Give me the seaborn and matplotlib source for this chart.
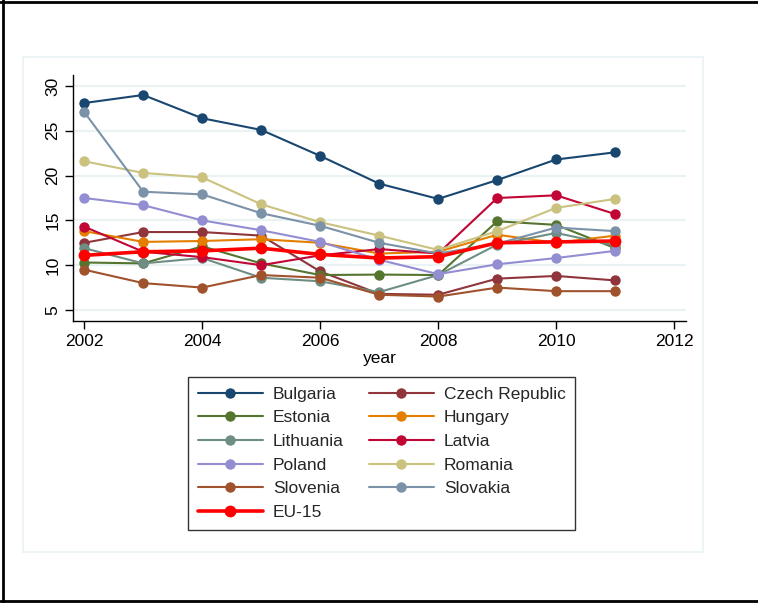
import matplotlib
matplotlib.use("Agg")
import matplotlib.pyplot as plt
from matplotlib.lines import Line2D
from matplotlib.patches import Rectangle
import pandas as pd
import seaborn as sns

# Yearly rates by country, 2002-2011
years = [2002, 2003, 2004, 2005, 2006, 2007, 2008, 2009, 2010, 2011]
bulgaria = [28.1, 29.0, 26.4, 25.1, 22.2, 19.1, 17.4, 19.5, 21.8, 22.6]
czech_republic = [12.5, 13.7, 13.7, 13.3, 9.3, 6.8, 6.7, 8.5, 8.8, 8.3]
estonia = [10.3, 10.2, 12.1, 10.2, 8.9, 8.95, 8.9, 14.9, 14.5, 11.9]
hungary = [13.8, 12.6, 12.7, 12.9, 12.5, 11.3, 11.5, 13.4, 12.5, 13.3]
lithuania = [11.9, 10.2, 10.8, 8.6, 8.2, 7.0, 8.9, 12.3, 13.6, 12.2]
latvia = [14.3, 11.5, 10.9, 10.0, 11.1, 11.8, 11.3, 17.5, 17.8, 15.7]
poland = [17.5, 16.7, 15.0, 13.9, 12.6, 10.6, 9.0, 10.1, 10.8, 11.6]
romania = [21.6, 20.3, 19.8, 16.8, 14.8, 13.3, 11.7, 13.8, 16.4, 17.4]
slovenia = [9.5, 8.0, 7.5, 8.9, 8.6, 6.7, 6.5, 7.5, 7.1, 7.1]
slovakia = [27.1, 18.2, 17.9, 15.8, 14.4, 12.5, 11.3, 12.4, 14.2, 13.8]
eu15 = [11.1, 11.5, 11.6, 11.9, 11.2, 10.8, 10.95, 12.5, 12.6, 12.7]

countries = ["Bulgaria", "Czech Republic", "Estonia", "Hungary", "Lithuania",
             "Latvia", "Poland", "Romania", "Slovenia", "Slovakia"]
series = [bulgaria, czech_republic, estonia, hungary, lithuania,
          latvia, poland, romania, slovenia, slovakia]
colors = ["#1a476f", "#90353b", "#55752f", "#e37e00", "#6e8e84",
          "#c10534", "#938dd2", "#cac27e", "#a0522d", "#7b92a8"]
eu_label = "EU-15"
eu_color = "#ff0000"

x_ticks = [2002, 2004, 2006, 2008, 2010, 2012]
y_ticks = [5, 10, 15, 20, 25, 30]

df = pd.DataFrame(
    [(c, y, v) for c, vals in zip(countries, series) for y, v in zip(years, vals)],
    columns=["country", "year", "value"],
)
df_eu = pd.DataFrame({"year": years, "value": eu15})

sns.set_style("white")
plt.rcParams["font.family"] = ["Liberation Sans", "DejaVu Sans"]

FS = 12.5
W, H = 758, 603
fig = plt.figure(figsize=(W / 100, H / 100), dpi=100)
ax = fig.add_axes([73 / W, 1 - 321 / H, (686 - 73) / W, (321 - 75) / H])

palette = dict(zip(countries, colors))
sns.lineplot(data=df, x="year", y="value", hue="country", hue_order=countries,
             palette=palette, marker="o", markersize=7.5, markeredgewidth=0,
             linewidth=1.5, legend=False, ax=ax)
sns.lineplot(data=df_eu, x="year", y="value", color=eu_color, marker="o",
             markersize=8.5, markeredgewidth=0, linewidth=2.6, legend=False, ax=ax)

ax.set_xlim(2001.81, 2012.2)
ax.set_ylim(3.77, 31.23)
ax.set_xticks(x_ticks)
ax.set_yticks(y_ticks)
ax.set_yticklabels([str(t) for t in y_ticks], rotation=90, va="center")
ax.tick_params(axis="both", direction="out", length=6, width=1, color="black",
               labelsize=FS, labelcolor="black", pad=3, left=True, bottom=True)
ax.set_xlabel("year", fontsize=FS, labelpad=2, color="black")
ax.set_ylabel("")
ax.yaxis.grid(True, color="#eaf2f3", linewidth=1.6)
ax.xaxis.grid(False)
ax.set_axisbelow(True)
for side in ("top", "right"):
    ax.spines[side].set_visible(False)
for side in ("left", "bottom"):
    ax.spines[side].set_color("black")
    ax.spines[side].set_linewidth(1.0)

# Legend: two columns, filled row by row
handles = {}
for c, col in zip(countries, colors):
    handles[c] = Line2D([], [], color=col, marker="o", markersize=7.5,
                        markeredgewidth=0, linewidth=1.5)
handles[eu_label] = Line2D([], [], color=eu_color, marker="o", markersize=8.5,
                           markeredgewidth=0, linewidth=2.6)
row_order = countries + [eu_label]
left_col = row_order[0::2]
right_col = row_order[1::2]
order = left_col + right_col
leg = fig.legend([handles[k] for k in order], order, loc="upper left",
                 bbox_to_anchor=(188 / W, 1 - 377 / H), borderaxespad=0,
                 ncol=2, fontsize=FS, frameon=True, fancybox=False,
                 edgecolor="black", handlelength=3.75, handletextpad=0.58,
                 columnspacing=1.44, labelspacing=0.49, borderpad=0.55)
leg.get_frame().set_linewidth(1.0)

# Outer panel and frame
fig.patches.append(Rectangle((23 / W, 1 - 552 / H), 680 / W, 495 / H,
                             transform=fig.transFigure, fill=False,
                             edgecolor="#eaf2f3", linewidth=1.2))
frame_kw = dict(transform=fig.transFigure, color="black", linewidth=2.0)
fig.lines.append(Line2D([3 / W, 3 / W], [0, 1], **frame_kw))
fig.lines.append(Line2D([0, 1], [1 - 2 / H, 1 - 2 / H], **frame_kw))
fig.lines.append(Line2D([0, 1], [1 - 601 / H, 1 - 601 / H], **frame_kw))

fig.savefig("out.png", dpi=100)
